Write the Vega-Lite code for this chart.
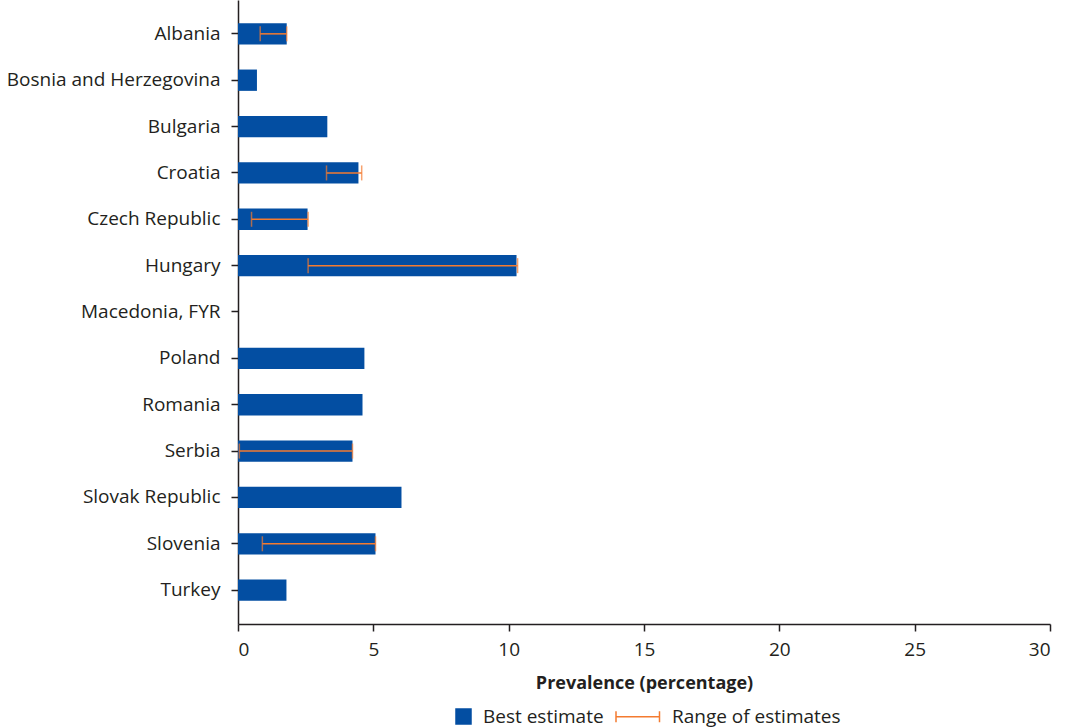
{
  "$schema": "https://vega.github.io/schema/vega-lite/v6.json",
  "width": 812,
  "height": 624,
  "padding": {"left": 6, "top": 0, "right": 20, "bottom": 5},
  "background": "white",
  "config": {
    "view": {"stroke": null},
    "font": "Open Sans",
    "axis": {"labelFont": "Open Sans", "titleFont": "Open Sans", "labelColor": "#231f20", "titleColor": "#231f20", "domainColor": "#231f20", "tickColor": "#231f20", "grid": false}
  },
  "data": {
    "values": [
      {"country": "Albania", "best": 1.8, "low": 0.82, "high": 1.8},
      {"country": "Bosnia and Herzegovina", "best": 0.7, "low": null, "high": null},
      {"country": "Bulgaria", "best": 3.3, "low": null, "high": null},
      {"country": "Croatia", "best": 4.45, "low": 3.27, "high": 4.57},
      {"country": "Czech Republic", "best": 2.57, "low": 0.5, "high": 2.59},
      {"country": "Hungary", "best": 10.29, "low": 2.59, "high": 10.33},
      {"country": "Macedonia, FYR", "best": null, "low": null, "high": null},
      {"country": "Poland", "best": 4.67, "low": null, "high": null},
      {"country": "Romania", "best": 4.6, "low": null, "high": null},
      {"country": "Serbia", "best": 4.23, "low": 0.05, "high": 4.23},
      {"country": "Slovak Republic", "best": 6.04, "low": null, "high": null},
      {"country": "Slovenia", "best": 5.08, "low": 0.9, "high": 5.08},
      {"country": "Turkey", "best": 1.79, "low": null, "high": null}
    ]
  },
  "encoding": {
    "y": {
      "field": "country", "type": "nominal", "sort": null,
      "scale": {
        "domain": ["Albania", "Bosnia and Herzegovina", "Bulgaria", "Croatia", "Czech Republic", "Hungary", "Macedonia, FYR", "Poland", "Romania", "Serbia", "Slovak Republic", "Slovenia", "Turkey"],
        "paddingInner": 0.54, "paddingOuter": 0.5
      },
      "axis": {"title": null, "labelFontSize": 19, "labelLimit": 400, "tickSize": 7, "labelPadding": 11, "domainWidth": 1.5, "tickWidth": 1.5}
    }
  },
  "layer": [
    {
      "mark": {"type": "bar", "cornerRadius": 0},
      "encoding": {
        "x": {
          "field": "best", "type": "quantitative",
          "scale": {"domain": [0, 30], "nice": false},
          "axis": {"title": "Prevalence (percentage)", "titleFontSize": 18, "titleFontWeight": "bold", "titlePadding": 15, "labelFontSize": 19, "tickSize": 7, "labelPadding": 9, "values": [0, 5, 10, 15, 20, 25, 30], "domainWidth": 1.5, "tickWidth": 1.5}
        },
        "color": {
          "datum": "Best estimate",
          "scale": {"domain": ["Best estimate", "Range of estimates"], "range": ["#034ea2", "#f47b30"]},
          "legend": {
            "orient": "none", "legendX": 216, "legendY": 707, "direction": "horizontal", "title": null,
            "labelFontSize": 19, "labelFont": "Open Sans", "labelColor": "#231f20", "labelLimit": 400,
            "symbolSize": 225, "labelOffset": 10, "columnPadding": 9,
            "encode": {
              "symbols": {"update": {
                "shape": {"signal": "datum.value === 'Best estimate' ? 'square' : 'M-1,-0.73L-1,0.73M-1,0L4.8,0M4.8,-0.73L4.8,0.73'"},
                "fill": {"signal": "datum.value === 'Best estimate' ? '#034ea2' : 'transparent'"},
                "stroke": {"signal": "datum.value === 'Best estimate' ? 'transparent' : '#f47b30'"},
                "strokeWidth": {"value": 1.5},
                "opacity": {"value": 1}
              }},
              "labels": {"update": {"dx": {"signal": "datum.value === 'Best estimate' ? 0 : 29"}}}
            }
          }
        }
      }
    },
    {
      "transform": [{"filter": "datum.low != null"}],
      "mark": {"type": "rule", "strokeWidth": 1.5},
      "encoding": {
        "x": {"field": "low", "type": "quantitative"},
        "x2": {"field": "high"},
        "color": {"datum": "Range of estimates"}
      }
    },
    {
      "transform": [{"filter": "datum.low != null"}],
      "mark": {"type": "tick", "thickness": 1.5, "size": 15, "orient": "vertical"},
      "encoding": {
        "x": {"field": "low", "type": "quantitative"},
        "color": {"datum": "Range of estimates"}
      }
    },
    {
      "transform": [{"filter": "datum.high != null"}],
      "mark": {"type": "tick", "thickness": 1.5, "size": 15, "orient": "vertical"},
      "encoding": {
        "x": {"field": "high", "type": "quantitative"},
        "color": {"datum": "Range of estimates"}
      }
    }
  ]
}
